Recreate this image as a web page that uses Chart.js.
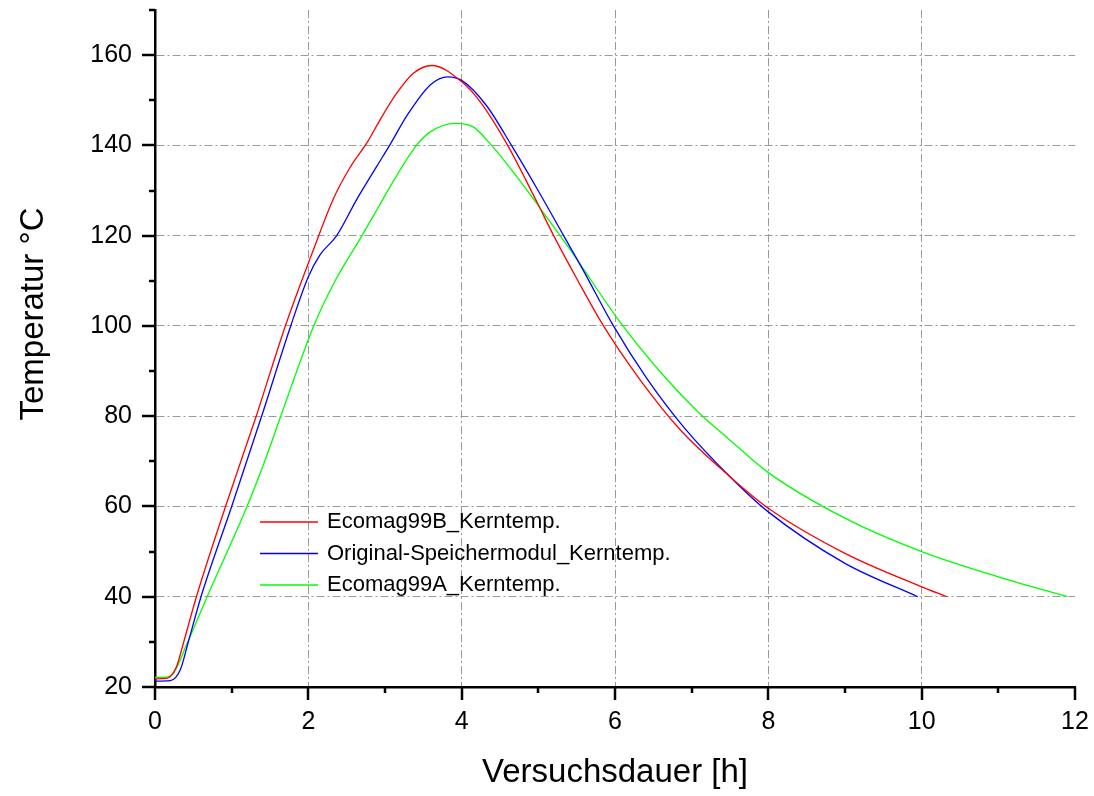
<!DOCTYPE html>
<html>
<head>
<meta charset="utf-8">
<script src="https://cdn.jsdelivr.net/npm/chart.js@4.4.1/dist/chart.umd.min.js"></script>
<style>
  body { margin: 0; background: #fff; }
  canvas { display: block; }
</style>
</head>
<body>
<canvas id="myChart" width="1094" height="796"></canvas>
<script>
var seriesNames = ["Ecomag99B_Kerntemp.", "Original-Speichermodul_Kerntemp.", "Ecomag99A_Kerntemp."];
var seriesColors = ["#ff0000", "#0000ff", "#00ff00"];

// Ecomag99B
var xB = [0, 0.15, 0.28, 0.37, 0.54, 0.92, 1.32, 1.70, 2.04, 2.33, 2.54, 2.78, 2.93, 3.15, 3.37, 3.61, 4.0, 4.24, 4.6, 4.98, 5.2, 5.5, 5.85, 6.33, 6.85, 7.5, 8.0, 9.0, 10.0, 10.33];
var yB = [21.8, 21.9, 24.5, 29.7, 40, 60, 80, 100, 115.7, 128.3, 135.0, 141.0, 145.5, 151.5, 156, 157.7, 154.1, 149.7, 140, 127.5, 120, 110.5, 100, 88, 77.0, 66.6, 59.6, 49.6, 42.2, 40];

// Original-Speichermodul
var xO = [0, 0.2, 0.33, 0.43, 0.6, 1.0, 1.41, 1.77, 2.0, 2.15, 2.37, 2.63, 2.89, 3.07, 3.29, 3.59, 3.82, 4.0, 4.32, 4.65, 4.98, 5.33, 5.59, 5.98, 6.41, 6.91, 7.5, 8.0, 9.0, 9.95];
var yO = [21.3, 21.4, 23.8, 29.7, 40, 60, 81, 100, 110.9, 115.7, 120, 128, 135.3, 140.3, 146.7, 153.4, 155.2, 154.4, 148.9, 140, 130.5, 120, 112.2, 100, 88.5, 77.3, 66.6, 58.8, 47.4, 40];

// Ecomag99A
var xA = [0, 0.15, 0.24, 0.42, 0.68, 1.2, 1.42, 1.64, 2.07, 2.35, 2.7, 2.93, 3.13, 3.41, 3.59, 3.92, 4.15, 4.39, 4.63, 4.89, 5.13, 5.42, 6.03, 6.51, 7.08, 7.46, 8.0, 9.0, 10.0, 11.0, 11.9];
var yA = [22.1, 22.2, 23, 29.7, 40, 60, 69.5, 80, 100, 110, 120, 126.8, 132.7, 140, 143, 144.9, 144.1, 140, 135, 129.2, 123.6, 116.8, 101.7, 91.4, 81.0, 75.3, 67.5, 57.4, 50.0, 44.4, 40];

var xTitle = "Versuchsdauer [h]";
var yTitle = "Temperatur °C";

function pts(xs, ys) {
    return xs.map(function (x, i) { return { x: x, y: ys[i] }; });
}

var fontFam = "'Liberation Sans', Arial, sans-serif";
var gridGray = "#9a9a9a";

var decor = {
    id: "decor",
    afterDraw: function (chart) {
        var ctx = chart.ctx;
        var xs = chart.scales.x, ys = chart.scales.y;
        var area = chart.chartArea;
        ctx.save();
        ctx.strokeStyle = "#000";
        ctx.lineWidth = 2.5;
        // ticks outside the axes
        xs.ticks.forEach(function (t) {
            var px = Math.round(xs.getPixelForValue(t.value));
            var len = t.value % 2 === 0 ? 13 : 6;
            ctx.beginPath();
            ctx.moveTo(px, area.bottom);
            ctx.lineTo(px, area.bottom + len);
            ctx.stroke();
        });
        ys.ticks.forEach(function (t) {
            var py = Math.round(ys.getPixelForValue(t.value));
            var len = t.value % 20 === 0 ? 13 : 6;
            ctx.beginPath();
            ctx.moveTo(area.left, py);
            ctx.lineTo(area.left - len, py);
            ctx.stroke();
        });

        // axis titles
        ctx.fillStyle = "#000";
        ctx.font = "33px " + fontFam;
        ctx.textAlign = "center";
        ctx.textBaseline = "middle";
        ctx.fillText(xTitle, (area.left + area.right) / 2, 773);
        ctx.translate(34, 314);
        ctx.rotate(-Math.PI / 2);
        ctx.fillText(yTitle, 0, 0);
        ctx.restore();

        // legend inside plot
        ctx.save();
        ctx.font = "22px " + fontFam;
        ctx.textAlign = "left";
        ctx.textBaseline = "middle";
        chart.data.datasets.forEach(function (ds, i) {
            var ly = 522 + i * 31.5;
            ctx.strokeStyle = ds.borderColor;
            ctx.lineWidth = 1.5;
            ctx.beginPath();
            ctx.moveTo(260, ly);
            ctx.lineTo(318, ly);
            ctx.stroke();
            ctx.fillStyle = "#000";
            ctx.fillText(ds.label, 327, ly);
        });
        ctx.restore();
    }
};

function noPad(s) {
    s.paddingTop = 0;
    s.paddingBottom = 0;
    s.paddingLeft = 0;
    s.paddingRight = 0;
}

new Chart("myChart", {
    type: "scatter",
    data: {
        datasets: [
            { label: seriesNames[0], data: pts(xB, yB), borderColor: seriesColors[0] },
            { label: seriesNames[1], data: pts(xO, yO), borderColor: seriesColors[1] },
            { label: seriesNames[2], data: pts(xA, yA), borderColor: seriesColors[2] }
        ].map(function (d) {
            d.showLine = true;
            d.pointRadius = 0;
            d.borderWidth = 1.3;
            d.backgroundColor = d.borderColor;
            d.cubicInterpolationMode = "monotone";
            return d;
        })
    },
    options: {
        responsive: false,
        animation: false,
        layout: { padding: { top: 10, right: 19, left: 0, bottom: 0 } },
        plugins: {
            legend: { display: false },
            tooltip: { enabled: false }
        },
        scales: {
            x: {
                type: "linear",
                min: 0,
                max: 12,
                afterFit: function (s) { s.height = 109; noPad(s); },
                ticks: {
                    stepSize: 1,
                    padding: 20,
                    color: "#000",
                    font: { size: 25, family: fontFam },
                    maxRotation: 0,
                    autoSkip: false,
                    callback: function (v) { return v % 2 === 0 ? v : ""; }
                },
                grid: {
                    drawTicks: false,
                    color: function (c) {
                        var v = c.tick.value;
                        return (v % 2 === 0 && v > 0 && v < 12) ? gridGray : "rgba(0,0,0,0)";
                    }
                },
                border: { display: true, color: "#000", width: 2.5, dash: [8, 3, 2, 3] }
            },
            y: {
                type: "linear",
                min: 20,
                max: 170,
                afterFit: function (s) { s.width = 155; noPad(s); },
                ticks: {
                    stepSize: 10,
                    padding: 23,
                    color: "#000",
                    font: { size: 25, family: fontFam },
                    autoSkip: false,
                    callback: function (v) { return v % 20 === 0 ? v : ""; }
                },
                grid: {
                    drawTicks: false,
                    color: function (c) {
                        var v = c.tick.value;
                        return (v % 20 === 0 && v > 20) ? gridGray : "rgba(0,0,0,0)";
                    }
                },
                border: { display: true, color: "#000", width: 2.5, dash: [8, 3, 2, 3] }
            }
        }
    },
    plugins: [decor]
});
</script>
</body>
</html>
